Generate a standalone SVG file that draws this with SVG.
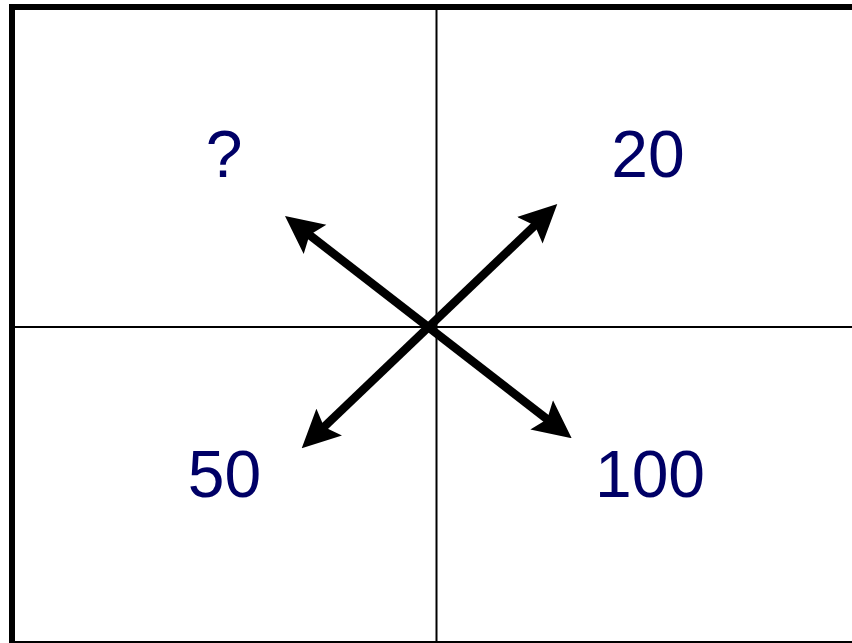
<svg xmlns="http://www.w3.org/2000/svg" width="852" height="643" viewBox="0 0 852 643">
<style>
.lbl{font-family:"Liberation Sans",Arial,sans-serif;font-size:66px;fill:#000066;text-anchor:middle}
.grid{stroke:#000;stroke-width:2;fill:none}
.arr{stroke:#000;stroke-width:8.5;fill:none;marker-start:url(#head);marker-end:url(#head)}
</style>
<defs>
<marker id="head" markerUnits="userSpaceOnUse" viewBox="0 0 38 38" markerWidth="38" markerHeight="38" refX="17" refY="19" orient="auto-start-reverse">
<path d="M0,0.5 L38,19 L0,37.5 L7,19 Z" fill="#000"/>
</marker>
</defs>
<rect width="852" height="643" fill="#fff"/>
<g id="frame">
<line x1="12" y1="4" x2="12" y2="643" stroke="#000" stroke-width="6"/>
<line x1="9" y1="7" x2="852" y2="7" stroke="#000" stroke-width="6"/>
<line x1="9" y1="642" x2="852" y2="642" class="grid"/>
<line x1="436.5" y1="10" x2="436.5" y2="643" class="grid"/>
<line x1="15" y1="327" x2="852" y2="327" class="grid"/>
</g>
<g id="connectors">
<path class="arr" d="M301.6,228.9 L555.1,425.4"/>
<path class="arr" d="M542.1,218.5 L316.9,433.8"/>
</g>
<g id="q"><text class="lbl" x="224" y="177">?</text></g>
<g id="n20"><text class="lbl" x="648" y="177">20</text></g>
<g id="n50"><text class="lbl" x="224.5" y="497">50</text></g>
<g id="n100"><text class="lbl" x="650" y="497">100</text></g>
</svg>
